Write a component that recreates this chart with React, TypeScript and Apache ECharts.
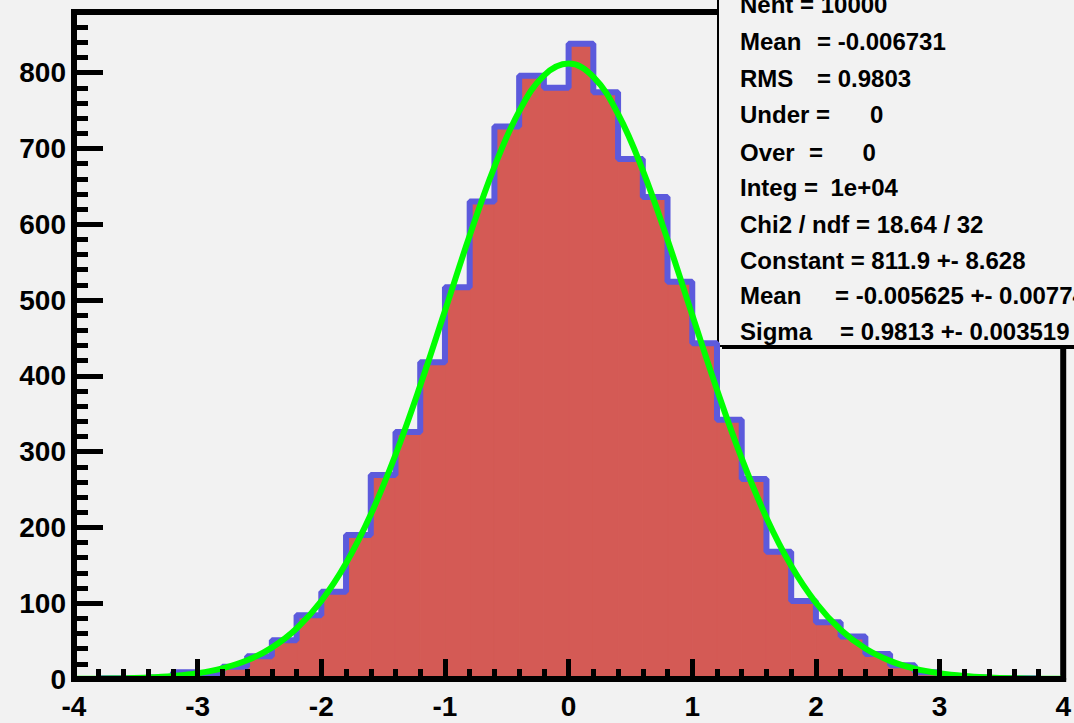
import React, { useEffect, useRef } from "react";
import * as echarts from "echarts";

// Histogram bins (low edges, width 0.2) and counts
const binLowEdges = [
  -4.0, -3.8, -3.6, -3.4, -3.2, -3.0, -2.8, -2.6, -2.4, -2.2,
  -2.0, -1.8, -1.6, -1.4, -1.2, -1.0, -0.8, -0.6, -0.4, -0.2,
  0.0, 0.2, 0.4, 0.6, 0.8, 1.0, 1.2, 1.4, 1.6, 1.8,
  2.0, 2.2, 2.4, 2.6, 2.8, 3.0, 3.2, 3.4, 3.6, 3.8,
];
const binWidth = 0.2;
const binCounts = [
  0, 1, 1, 2, 9, 6, 16, 30, 51, 84,
  115, 190, 269, 326, 418, 517, 630, 729, 796, 780,
  838, 774, 686, 636, 524, 443, 342, 264, 168, 103,
  75, 56, 33, 18, 9, 4, 2, 1, 1, 0,
];

// Fitted gaussian curve
const fitX = [
  -4.0, -3.8, -3.6, -3.4, -3.2, -3.0, -2.8, -2.6, -2.4, -2.2,
  -2.0, -1.8, -1.6, -1.4, -1.2, -1.0, -0.8, -0.6, -0.4, -0.2,
  0.0, 0.2, 0.4, 0.6, 0.8, 1.0, 1.2, 1.4, 1.6, 1.8,
  2.0, 2.2, 2.4, 2.6, 2.8, 3.0, 3.2, 3.4, 3.6, 3.8, 4.0,
];
const fitY = [
  0.2, 0.46, 0.98, 2.0, 4.1, 7.7, 14.1, 24.6, 41.4, 66.6,
  102.9, 152.6, 216.9, 295.8, 387.1, 485.8, 585.0, 675.8, 748.9, 796.1,
  811.9, 794.3, 745.4, 671.1, 579.6, 480.2, 381.7, 291.0, 212.9, 149.4,
  100.6, 65.0, 40.2, 23.9, 13.6, 7.5, 3.9, 2.0, 0.95, 0.44, 0.2,
];

// Axis settings
const xMin = -4, xMax = 4, xInterval = 1;
const yMin = 0, yMax = 880, yInterval = 100, yLabelMax = 800;

// Stats box text pieces: [text, x]
const statsLines: [string, number][][] = [
  [["Nent = 10000", 740]],
  [["Mean", 740], ["= -0.006731", 817]],
  [["RMS", 740], ["= 0.9803", 817]],
  [["Under =", 740], ["0", 870]],
  [["Over", 740], ["=", 809], ["0", 862.5]],
  [["Integ =", 740], ["1e+04", 830.5]],
  [["Chi2 / ndf = 18.64 / 32", 740]],
  [["Constant = 811.9 +- 8.628", 740]],
  [["Mean", 740], ["= -0.005625 +- 0.007742", 835]],
  [["Sigma", 740], ["= 0.9813 +- 0.003519", 840]],
];
const statsLineY = [4.5, 41.3, 78.5, 114.3, 152, 187.7, 224.7, 260, 295.3, 331.7];

const FONT = "'Liberation Sans', Arial, Helvetica, sans-serif";

export default function App() {
  const ref = useRef<HTMLDivElement>(null);
  useEffect(() => {
    document.body.style.margin = "0";
    document.body.style.background = "#f2f2f2";
    if (!ref.current) return;
    const chart = echarts.init(ref.current, null, { renderer: "svg" });

    const fillData = binLowEdges.map((e, i) => [e, e + binWidth, binCounts[i]]);
    const outline: number[][] = [[binLowEdges[0], 0]];
    binLowEdges.forEach((e, i) => outline.push([e, binCounts[i]]));
    const lastEdge = binLowEdges[binLowEdges.length - 1] + binWidth;
    outline.push([lastEdge, binCounts[binCounts.length - 1]]);
    outline.push([lastEdge, 0]);
    const fitData = fitX.map((x, i) => [x, fitY[i]]);

    const textEls: any[] = [];
    statsLines.forEach((pieces, i) => {
      const y = statsLineY[i];
      pieces.forEach(([t, x]) => {
        textEls.push({
          type: "text",
          x,
          y,
          style: {
            text: t,
            fill: "#000",
            font: `bold 24px ${FONT}`,
            textVerticalAlign: "middle",
          },
        });
      });
    });

    chart.setOption({
      animation: false,
      backgroundColor: "#f2f2f2",
      grid: {
        left: 74,
        right: 10,
        top: 12,
        bottom: 44,
        show: true,
        borderColor: "#000",
        borderWidth: 6,
        backgroundColor: "#f2f2f2",
      },
      xAxis: {
        type: "value",
        min: xMin,
        max: xMax,
        interval: xInterval,
        z: 10,
        axisLine: { show: true, onZero: false, lineStyle: { color: "#000", width: 6 } },
        axisTick: { show: true, inside: true, length: 20, lineStyle: { color: "#000", width: 5 } },
        minorTick: { show: true, splitNumber: 5, length: 10, lineStyle: { color: "#000", width: 5 } },
        splitLine: { show: false },
        axisLabel: {
          color: "#000",
          fontSize: 28,
          fontWeight: "bold",
          fontFamily: FONT,
          margin: 13,
        },
      },
      yAxis: {
        type: "value",
        min: yMin,
        max: yMax,
        interval: yInterval,
        z: 10,
        axisLine: { show: true, onZero: false, lineStyle: { color: "#000", width: 6 } },
        axisTick: { show: true, inside: true, length: 29, lineStyle: { color: "#000", width: 5 } },
        minorTick: { show: true, splitNumber: 5, length: 14, lineStyle: { color: "#000", width: 5 } },
        splitLine: { show: false },
        axisLabel: {
          color: "#000",
          fontSize: 28,
          fontWeight: "bold",
          fontFamily: FONT,
          margin: 8,
          formatter: (v: number) => (v > yLabelMax ? "" : String(v)),
        },
      },
      series: [
        {
          type: "custom",
          name: "fill",
          z: 2,
          data: fillData,
          encode: { x: [0, 1], y: 2 },
          renderItem: (params: any, api: any) => {
            const x0 = api.value(0);
            const x1 = api.value(1);
            const v = api.value(2);
            const p0 = api.coord([x0, v]);
            const p1 = api.coord([x1, 0]);
            return {
              type: "rect",
              shape: { x: p0[0], y: p0[1], width: p1[0] - p0[0], height: p1[1] - p0[1] },
              style: { fill: "#d45a55", stroke: "#d45a55", lineWidth: 1 },
            };
          },
        },
        {
          type: "line",
          name: "outline",
          z: 3,
          step: "end",
          data: outline,
          showSymbol: false,
          symbol: "none",
          lineStyle: { color: "#5c5adc", width: 6 },
        },
        {
          type: "line",
          name: "fit",
          z: 4,
          smooth: 0.4,
          data: fitData,
          showSymbol: false,
          symbol: "none",
          lineStyle: { color: "#00ff00", width: 6 },
        },
      ],
      graphic: [
        {
          type: "group",
          z: 100,
          children: [
            {
              type: "rect",
              shape: { x: 722, y: 344, width: 400, height: 5 },
              style: { fill: "#000" },
            },
            {
              type: "rect",
              shape: { x: 718, y: -10, width: 400, height: 356 },
              style: { fill: "#f2f2f2", stroke: "#000", lineWidth: 2 },
            },
            ...textEls,
          ],
        },
      ],
    });
    return () => chart.dispose();
  }, []);
  return <div ref={ref} style={{ width: 1074, height: 723 }} />;
}
